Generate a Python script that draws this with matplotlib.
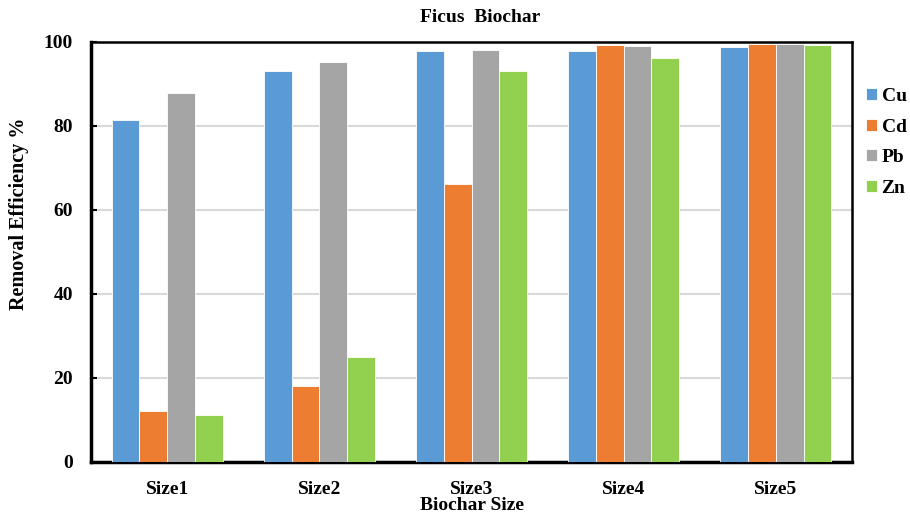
import matplotlib.pyplot as plt
import numpy as np

plt.rcParams['font.family'] = ['Liberation Serif', 'DejaVu Serif']
plt.rcParams['font.weight'] = 'bold'

# data
sizes = ['Size1', 'Size2', 'Size3', 'Size4', 'Size5']
metals = ['Cu', 'Cd', 'Pb', 'Zn']
cu = [81.4, 93.0, 97.9, 97.9, 98.7]
cd = [12.1, 18.1, 66.1, 99.2, 99.5]
pb = [87.9, 95.2, 98.2, 99.0, 99.5]
zn = [11.3, 25.0, 93.2, 96.3, 99.2]
colors = ['#5b9bd5', '#ed7d31', '#a5a5a5', '#92d050']

fig = plt.figure(figsize=(9.1, 5.14), dpi=100)
ax = fig.add_axes([91 / 910, 1 - 462 / 514, 761 / 910, 420 / 514])

x = np.arange(len(sizes))
width = 0.182
for i, (vals, name) in enumerate(zip([cu, cd, pb, zn], metals)):
    ax.bar(x + (i - 1.5) * width, vals, width, color=colors[i], label=name,
           edgecolor='white', linewidth=0.6, zorder=3)

ax.set_xlim(-0.5, 4.5)
ax.set_ylim(0, 100)
ax.set_yticks([0, 20, 40, 60, 80, 100])
ax.set_xticks(x)
ax.set_xticklabels(sizes)
ax.yaxis.grid(True, color='#d9d9d9', linewidth=1.5, zorder=0)
ax.tick_params(axis='x', length=0, labelsize=14, pad=14)
ax.tick_params(axis='y', direction='in', length=4, width=1.5, labelsize=14, pad=13)
for s in ['left', 'bottom']:
    ax.spines[s].set_linewidth(2.5)
for s in ['top', 'right']:
    ax.spines[s].set_linewidth(1.8)

fig.text(480 / 910, 1 - 18 / 514, 'Ficus  Biochar', ha='center', va='center',
         fontsize=14, fontweight='bold')
fig.text(472 / 910, 1 - 506 / 514, 'Biochar Size', ha='center', va='center',
         fontsize=14, fontweight='bold')
fig.text(19 / 910, 1 - 214 / 514, 'Removal Efficiency %', ha='center', va='center',
         rotation=90, fontsize=14.5, fontweight='bold')

ax.legend(loc='upper left', bbox_to_anchor=(866 / 910, 1 - 88 / 514),
          bbox_transform=fig.transFigure, frameon=False, fontsize=14,
          handlelength=0.55, handleheight=0.55, handletextpad=0.25,
          labelspacing=0.7, borderaxespad=0, borderpad=0)

fig.savefig('out.png', dpi=100)
